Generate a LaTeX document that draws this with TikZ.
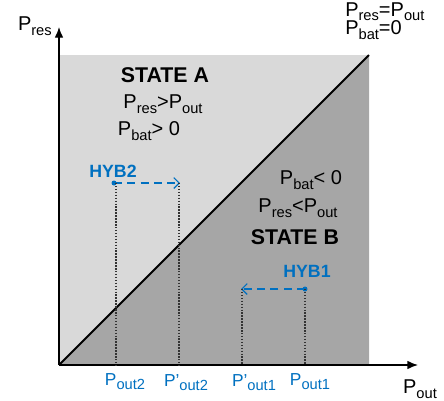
\documentclass[tikz,border=0pt]{standalone}
\usepackage{fontspec}
\setmainfont{Liberation Sans}
\usetikzlibrary{arrows.meta,positioning}
\definecolor{lightarea}{HTML}{D9D9D9}
\definecolor{darkarea}{HTML}{A6A6A6}
\definecolor{hybblue}{HTML}{0070C0}
\newcommand{\Psub}[1]{P\raisebox{-0.45ex}{\fontsize{11}{11}\selectfont #1}}

\begin{document}
\begin{tikzpicture}[x=0.75pt,y=-0.75pt,
   lbl/.style={inner sep=0pt,font=\fontsize{15}{17}\selectfont},
   statelbl/.style={inner sep=0pt,font=\fontsize{16}{18}\selectfont\bfseries},
   hyblbl/.style={inner sep=0pt,text=hybblue,font=\fontsize{13.3}{15}\selectfont\bfseries},
   ticklbl/.style={inner sep=0pt,text=hybblue,font=\fontsize{13}{15}\selectfont},
   axis/.style={line width=1pt,-{Latex[length=8pt,width=6.5pt]}},
   hybmove/.style={hybblue,line width=0.9pt,dash pattern=on 6pt off 4pt,-{Straight Barb[length=4pt,width=8pt]}},
   drop/.style={black!80,line width=0.9pt,dash pattern=on 1.1pt off 1.1pt}]
 \useasboundingbox (0,0) rectangle (444,401);
 % regions
 \fill[lightarea] (59,55) rectangle (369,365);
 \fill[darkarea] (59,365) -- (369,55) -- (369,365) -- cycle;
 % corner points
 \coordinate (o)  at (59,365);
 \coordinate (tr) at (369,55);
 \draw[line width=1.4pt] (o) -- (tr);
 % axes
 \coordinate (ytop) at (59,27);
 \coordinate (xend) at (418,365);
 \draw[axis] (o) -- (ytop);
 \draw[axis] (o) -- (xend);
 \node[lbl,anchor=east] (pres) at (52,26) {\Psub{res}};
 \node[lbl] (pout) at (420,389) {\Psub{out}};
 % equality line
 \node[lbl,anchor=north west,align=left] (eq) at (345,2) {\Psub{res}=\Psub{out}\\[-3pt]\Psub{bat}=0};
 % state A
 \node[statelbl] (sa) at (165,75) {STATE A};
 \node[lbl] (sa1) at (163,104) {\Psub{res}>\Psub{out}};
 \node[lbl] (sa2) at (149,131) {\Psub{bat}> 0};
 % state B
 \node[lbl] (sb1) at (311,180) {\Psub{bat}< 0};
 \node[lbl] (sb2) at (298,208) {\Psub{res}<\Psub{out}};
 \node[statelbl] (sb) at (295,237) {STATE B};
 % HYB2 shift
 \node[hyblbl] (h2) at (113,171) {HYB2};
 \coordinate (h2a) at (114,183);
 \coordinate (h2b) at (180,183);
 \fill[hybblue] (h2a) circle (2.5);
 \draw[hybmove] (h2a) -- (h2b);
 % HYB1 shift
 \node[hyblbl] (h1) at (307,271) {HYB1};
 \coordinate (h1a) at (305,289);
 \coordinate (h1b) at (241,289);
 \fill[hybblue] (h1a) circle (2.5);
 \draw[hybmove] (h1a) -- (h1b);
 % drop lines
 \coordinate (d1) at (116,183);
 \coordinate (d2) at (179,183);
 \coordinate (d3) at (242,289);
 \coordinate (d4) at (305,289);
 \draw[drop] (d1) -- (d1 |- o);
 \draw[drop] (d2) -- (d2 |- o);
 \draw[drop] (d3) -- (d3 |- o);
 \draw[drop] (d4) -- (d4 |- o);
 % tick labels
 \node[ticklbl] (t1) at (125,382) {\Psub{out2}};
 \node[ticklbl] (t2) at (186,383) {P’\raisebox{-0.45ex}{\fontsize{11}{11}\selectfont out2}};
 \node[ticklbl] (t3) at (254,383) {P’\raisebox{-0.45ex}{\fontsize{11}{11}\selectfont out1}};
 \node[ticklbl] (t4) at (310,382) {\Psub{out1}};
\end{tikzpicture}
\end{document}
